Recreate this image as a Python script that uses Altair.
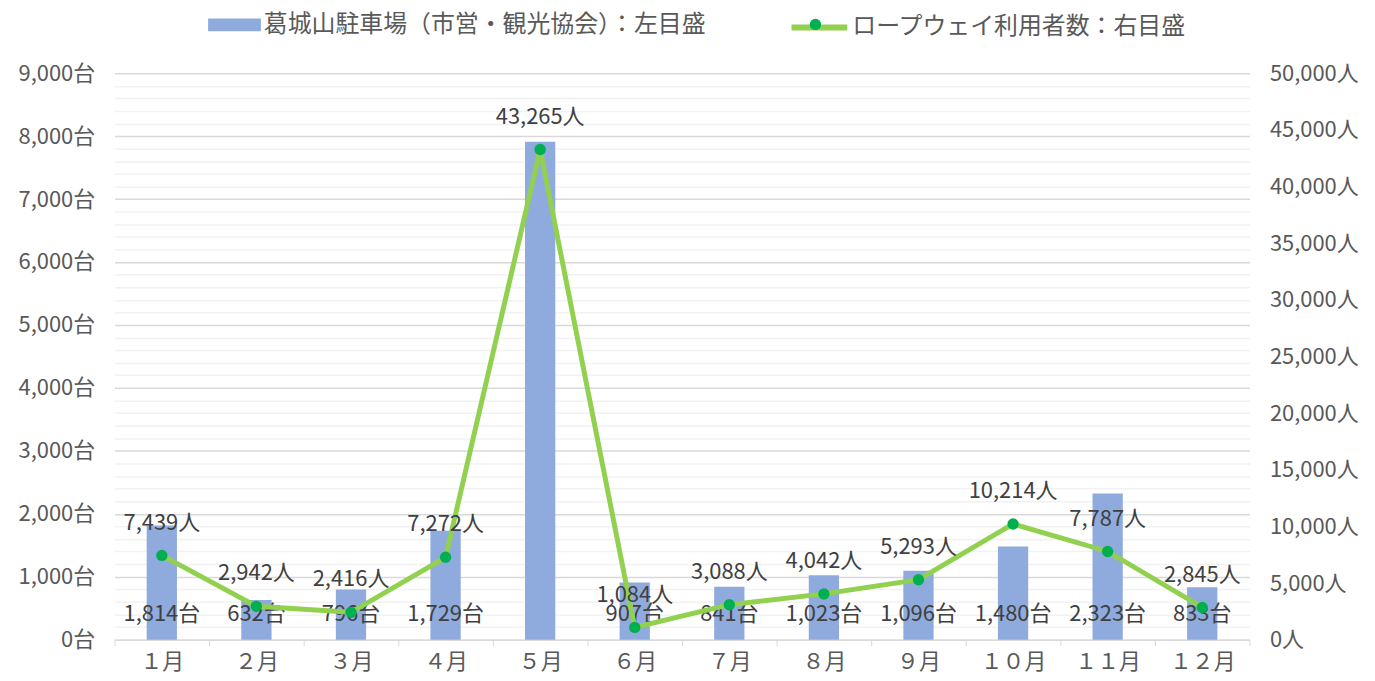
import altair as alt
import pandas as pd

FONT = "Noto Sans CJK JP"

months = ["１月", "２月", "３月", "４月", "５月", "６月", "７月", "８月", "９月", "１０月", "１１月", "１２月"]
parking = [1814, 632, 796, 1729, 7910, 907, 841, 1023, 1096, 1480, 2323, 833]
parking_label_shown = [True, True, True, True, False, True, True, True, True, True, True, True]
ropeway = [7439, 2942, 2416, 7272, 43265, 1084, 3088, 4042, 5293, 10214, 7787, 2845]

bar_series = "葛城山駐車場（市営・観光協会）：左目盛"
line_series = "ロープウェイ利用者数：右目盛"

left_ticks = list(range(0, 9001, 200))
right_ticks = list(range(0, 50001, 5000))

df = pd.DataFrame({
    "month": months,
    "parking": parking,
    "ropeway": ropeway,
})
df["zero"] = 0
df["bar_s"] = bar_series
df["line_s"] = line_series
df["dot_s"] = line_series
df["plabel"] = [f"{v:,}台" if s else "" for v, s in zip(parking, parking_label_shown)]
df["rlabel"] = [f"{v:,}人" for v in ropeway]

x = alt.X(
    "month:N", sort=months, title=None,
    scale=alt.Scale(paddingInner=0, paddingOuter=0),
    axis=alt.Axis(labelAngle=0, labelFont=FONT, labelFontSize=22, labelColor="#595959",
                  domainColor="#D9D9D9", tickColor="#D9D9D9", tickBand="extent",
                  tickSize=6, labelPadding=6, grid=False),
)

left_scale = alt.Scale(domain=[0, 9000], nice=False, zero=True)
left_axis = alt.Axis(values=left_ticks, tickCount=46,
                     labelExpr="datum.value % 1000 === 0 ? format(datum.value, ',') + '台' : ''",
                     grid=True,
                     gridColor={"condition": {"test": "datum.value % 1000 === 0", "value": "#D9D9D9"},
                                "value": "#F2F2F2"},
                     gridWidth=1.5,
                     ticks=False, domain=False, labelPadding=20, labelOverlap=False,
                     labelFont=FONT, labelFontSize=22, labelColor="#595959")

bars = alt.Chart().mark_bar(width=alt.RelativeBandSize(0.32)).encode(
    x=x,
    y=alt.Y("parking:Q", title=None, scale=left_scale, axis=left_axis),
    fill=alt.Fill("bar_s:N",
                  scale=alt.Scale(domain=[bar_series], range=["#8FAADC"]),
                  legend=alt.Legend(title=None, orient="none", legendX=94, legendY=-75,
                                    symbolType="M-1,-0.245H1V0.245H-1Z", symbolSize=2809,
                                    symbolOpacity=1, symbolStrokeWidth=0, padding=0,
                                    labelFont=FONT, labelFontSize=24, labelColor="#595959",
                                    labelOffset=3, labelLimit=600)),
)

bar_labels = alt.Chart().mark_text(font=FONT, fontSize=22, color="#404040",
                                   baseline="middle", dy=-26).encode(
    x=x,
    y=alt.Y("zero:Q", title=None, scale=left_scale, axis=left_axis),
    text="plabel:N",
)

left = alt.layer(bars, bar_labels)

right_scale = alt.Scale(domain=[0, 50000], nice=False, zero=True)
right_axis = alt.Axis(orient="right", values=right_ticks,
                      labelExpr="format(datum.value, ',') + '人'",
                      grid=False, ticks=False, domain=False, labelPadding=20, labelOverlap=False,
                      labelFont=FONT, labelFontSize=22, labelColor="#595959")

line = alt.Chart().mark_line(strokeWidth=5).encode(
    x=x,
    y=alt.Y("ropeway:Q", title=None, scale=right_scale, axis=right_axis),
    stroke=alt.Stroke("line_s:N",
                      scale=alt.Scale(domain=[line_series], range=["#92D050"]),
                      legend=alt.Legend(title=None, orient="none", legendX=677, legendY=-77,
                                        symbolType="stroke", symbolSize=3136,
                                        symbolStrokeWidth=6, padding=0,
                                        labelFont=FONT, labelFontSize=24, labelColor="#595959",
                                        labelOffset=2, labelLimit=600)),
)

points = alt.Chart().mark_point(filled=True, size=130, opacity=1).encode(
    x=x,
    y=alt.Y("ropeway:Q", title=None, scale=right_scale, axis=right_axis),
    fill=alt.Fill("dot_s:N",
                  scale=alt.Scale(domain=[line_series], range=["#00B050"]),
                  legend=alt.Legend(title=None, orient="none", legendX=698, legendY=-55,
                                    symbolType="circle", symbolSize=130, padding=0,
                                    symbolStrokeWidth=0, symbolOpacity=1,
                                    labelExpr="''")),
)

line_labels = alt.Chart().mark_text(font=FONT, fontSize=22, color="#404040",
                                    baseline="middle", dy=-33).encode(
    x=x,
    y=alt.Y("ropeway:Q", title=None, scale=right_scale, axis=right_axis),
    text="rlabel:N",
)

right = alt.layer(line, points, line_labels)

chart = alt.layer(left, right, data=df).resolve_scale(
    y="independent", fill="independent"
).properties(
    width=1140, height=569,
    autosize=alt.AutoSizeParams(type="none"),
    padding={"left": 107, "top": 64, "right": 118, "bottom": 36},
    background="white",
).configure_view(stroke=None)

chart.save("out.html", embed_options={"renderer": "svg", "actions": False})
